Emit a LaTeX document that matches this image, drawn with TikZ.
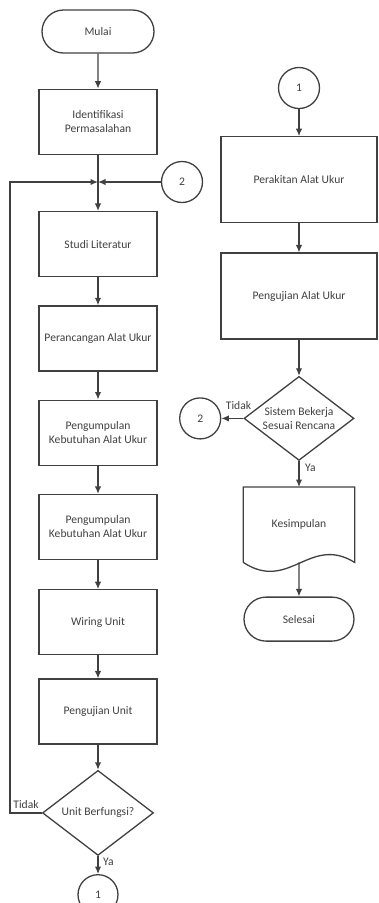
\documentclass[tikz,border=0pt]{standalone}
\usepackage{fontspec}
\setmainfont{Carlito}
\usetikzlibrary{positioning}
\usetikzlibrary{arrows.meta}
\usetikzlibrary{shapes.geometric}
\usetikzlibrary{shapes.misc}
\definecolor{garis}{HTML}{404040}
\tikzset{%
	>={Latex[width=6.5pt,length=7.5pt]},
	% Specifications for style of nodes:
	base/.style = {draw=garis, line width=1.3pt, text=garis, align=center, inner sep=1pt, font=\fontsize{11.6}{14}\selectfont},
	terminal/.style = {base, rounded rectangle, minimum width=114pt, minimum height=43pt},
	process/.style = {base, rectangle, minimum width=118pt, minimum height=65pt},
	bigprocess/.style = {base, rectangle, minimum width=156pt, minimum height=86pt},
	decision/.style = {base, diamond, minimum width=111pt, minimum height=85pt, inner sep=0pt},
	connector/.style = {base, circle, minimum size=41pt},
	docu/.style = {text=garis, align=center, minimum width=111pt, minimum height=75pt, font=\fontsize{11.6}{14}\selectfont},
	lbl/.style = {text=garis, inner sep=0pt, align=center, font=\fontsize{11.6}{14}\selectfont},
	flow/.style = {draw=garis, line width=1.3pt, ->},
}
\begin{document}
\begin{tikzpicture}[x=1pt,y=1pt]
		\useasboundingbox (0,0) rectangle (378,-903);
		% left column
		\node (Mulai) [terminal] at (98,-31.5) {Mulai};
		\node (Ident) [process, below=35pt of Mulai] {Identifikasi\\Permasalahan};
		\node (Studi) [process, below=56pt of Ident] {Studi Literatur};
		\node (Rancang) [process, below=28pt of Studi] {Perancangan Alat Ukur};
		\node (Kumpul1) [process, below=28pt of Rancang] {Pengumpulan\\Kebutuhan Alat Ukur};
		\node (Kumpul2) [process, below=28pt of Kumpul1] {Pengumpulan\\Kebutuhan Alat Ukur};
		\node (Wiring) [process, below=29pt of Kumpul2] {Wiring Unit};
		\node (UjiUnit) [process, below=23pt of Wiring] {Pengujian Unit};
		\node (Fungsi) [decision, below=25pt of UjiUnit] {};
		\node (FungsiT) [lbl] at (Fungsi) {Unit Berfungsi?};
		\node (ConA) [connector, minimum size=40pt, below=18pt of Fungsi] {1};
		\node (TdkA) [lbl, above left=4pt and 3pt of Fungsi.west] {Tidak};
		\node (YaA) [lbl, below right=2pt and 5pt of Fungsi.south] {Ya};
		
		\coordinate (J) at (98,-182);
		\coordinate (KiriL) at (10,-182);
		\node (ConB) [connector] at (182,-182) {2};
		
		% right column
		\node (ConA2) [connector] at (299,-88) {1};
		\node (Rakit) [bigprocess, below=27pt of ConA2] {Perakitan Alat Ukur};
		\node (UjiAlat) [bigprocess, below=29pt of Rakit] {Pengujian Alat Ukur};
		\node (Sistem) [decision, minimum width=110pt, minimum height=84pt, below=36pt of UjiAlat] {};
		\node (SistemT) [lbl] at (Sistem) {Sistem Bekerja\\Sesuai Rencana};
		\node (Simpul) [docu, below=26pt of Sistem] {Kesimpulan};
		\node (Selesai) [terminal, minimum width=112pt, minimum height=44pt, below=34pt of Simpul] {Selesai};
		\node (ConB2) [connector, left=22pt of Sistem] {2};
		\node (TdkB) [lbl, above left=9pt and -8pt of Sistem.west] {Tidak};
		\node (YaB) [lbl, below right=3pt and 6pt of Sistem.south] {Ya};
		
		\draw [draw=garis, line width=1.3pt] (Simpul.south west) -- (Simpul.north west) -- (Simpul.north east) -- (Simpul.south east)
			.. controls +(-45pt,28pt) and +(46pt,-30pt) .. (Simpul.south west);
		
		\draw [flow] (Mulai) -- (Ident);
		\draw [flow] (Ident) -- (Studi);
		\draw [flow] (Studi) -- (Rancang);
		\draw [flow] (Rancang) -- (Kumpul1);
		\draw [flow] (Kumpul1) -- (Kumpul2);
		\draw [flow] (Kumpul2) -- (Wiring);
		\draw [flow] (Wiring) -- (UjiUnit);
		\draw [flow] (UjiUnit) -- (Fungsi);
		\draw [flow] (Fungsi) -- (ConA);
		\draw [flow] (Fungsi.west) -| (KiriL) -- (J);
		\draw [flow] (ConB) -- (J);
		
		\draw [flow] (ConA2) -- (Rakit);
		\draw [flow] (Rakit) -- (UjiAlat);
		\draw [flow] (UjiAlat) -- (Sistem);
		\draw [flow] (Sistem) -- (ConB2);
		\draw [flow] (Sistem) -- (Simpul);
		\draw [flow] (Simpul.south) -- (Selesai);
		
     \end{tikzpicture}
\end{document}
